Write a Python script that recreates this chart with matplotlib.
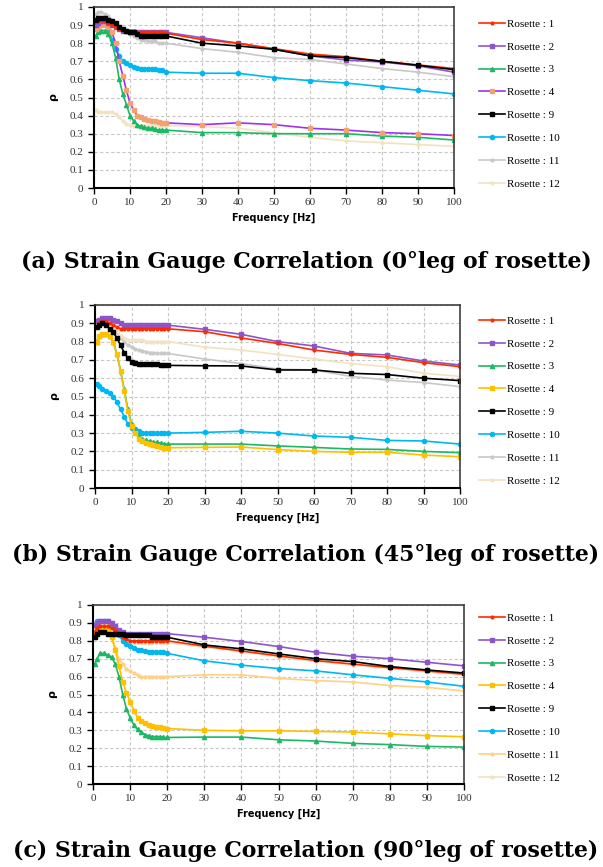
import matplotlib
matplotlib.use("Agg")
import matplotlib.pyplot as plt

freq = [0.5, 1, 2, 3, 4, 5, 6, 7, 8, 9, 10, 11, 12, 13, 14, 15, 16, 17, 18, 19, 20,
        30, 40, 50, 60, 70, 80, 90, 100]
labels = ["Rosette : 1", "Rosette : 2", "Rosette : 3", "Rosette : 4",
          "Rosette : 9", "Rosette : 10", "Rosette : 11", "Rosette : 12"]

# ---- (a) 0 deg leg ----
a_r1 = [0.92, 0.93, 0.93, 0.92, 0.91, 0.90, 0.89, 0.88, 0.88, 0.87, 0.87, 0.87, 0.86, 0.86, 0.86, 0.86, 0.86, 0.86, 0.86, 0.86, 0.855,
        0.82, 0.80, 0.77, 0.74, 0.725, 0.70, 0.68, 0.66]
a_r2 = [0.90, 0.91, 0.92, 0.92, 0.91, 0.90, 0.89, 0.88, 0.87, 0.87, 0.86, 0.86, 0.86, 0.86, 0.86, 0.86, 0.86, 0.86, 0.86, 0.86, 0.86,
        0.83, 0.80, 0.766, 0.73, 0.707, 0.696, 0.675, 0.64]
a_r3 = [0.84, 0.86, 0.87, 0.87, 0.85, 0.80, 0.72, 0.60, 0.52, 0.46, 0.40, 0.37, 0.35, 0.34, 0.335, 0.33, 0.33, 0.325, 0.32, 0.32, 0.32,
        0.306, 0.306, 0.30, 0.30, 0.30, 0.287, 0.28, 0.265]
a_r4 = [0.88, 0.89, 0.90, 0.90, 0.89, 0.86, 0.80, 0.70, 0.62, 0.54, 0.47, 0.43, 0.40, 0.39, 0.38, 0.375, 0.37, 0.37, 0.365, 0.36, 0.36,
        0.35, 0.36, 0.35, 0.33, 0.32, 0.306, 0.30, 0.29]
a_r9 = [0.93, 0.94, 0.94, 0.94, 0.93, 0.92, 0.91, 0.89, 0.88, 0.87, 0.86, 0.86, 0.85, 0.84, 0.84, 0.84, 0.84, 0.84, 0.84, 0.84, 0.84,
        0.80, 0.785, 0.766, 0.73, 0.72, 0.70, 0.678, 0.654]
a_r10 = [0.91, 0.92, 0.92, 0.91, 0.88, 0.82, 0.77, 0.73, 0.70, 0.69, 0.68, 0.67, 0.665, 0.66, 0.66, 0.66, 0.66, 0.655, 0.65, 0.65, 0.64,
         0.634, 0.634, 0.61, 0.593, 0.58, 0.56, 0.54, 0.52]
a_r11 = [0.96, 0.97, 0.97, 0.96, 0.95, 0.93, 0.90, 0.88, 0.87, 0.86, 0.85, 0.84, 0.83, 0.82, 0.82, 0.81, 0.81, 0.81, 0.80, 0.80, 0.80,
         0.77, 0.75, 0.72, 0.71, 0.685, 0.66, 0.64, 0.615]
a_r12 = [0.43, 0.42, 0.42, 0.42, 0.42, 0.42, 0.41, 0.39, 0.37, 0.355, 0.35, 0.345, 0.345, 0.345, 0.345, 0.345, 0.345, 0.345, 0.345, 0.345, 0.345,
         0.34, 0.33, 0.305, 0.28, 0.26, 0.25, 0.24, 0.23]

# ---- (b) 45 deg leg ----
b_r1 = [0.88, 0.90, 0.91, 0.91, 0.90, 0.89, 0.88, 0.87, 0.87, 0.87, 0.87, 0.87, 0.87, 0.87, 0.87, 0.87, 0.87, 0.87, 0.87, 0.87, 0.87,
        0.854, 0.82, 0.79, 0.754, 0.73, 0.714, 0.685, 0.663]
b_r2 = [0.91, 0.92, 0.93, 0.93, 0.93, 0.92, 0.91, 0.90, 0.89, 0.89, 0.89, 0.89, 0.89, 0.89, 0.89, 0.89, 0.89, 0.89, 0.89, 0.89, 0.89,
        0.867, 0.84, 0.80, 0.776, 0.736, 0.727, 0.694, 0.672]
b_r3 = [0.80, 0.83, 0.84, 0.84, 0.83, 0.80, 0.73, 0.64, 0.54, 0.43, 0.35, 0.31, 0.285, 0.27, 0.26, 0.255, 0.25, 0.25, 0.245, 0.24, 0.24,
        0.24, 0.24, 0.23, 0.222, 0.213, 0.211, 0.20, 0.193]
b_r4 = [0.80, 0.83, 0.84, 0.84, 0.83, 0.80, 0.73, 0.64, 0.53, 0.42, 0.34, 0.30, 0.27, 0.255, 0.245, 0.24, 0.235, 0.23, 0.225, 0.22, 0.22,
        0.222, 0.224, 0.21, 0.20, 0.195, 0.195, 0.18, 0.171]
b_r9 = [0.88, 0.89, 0.90, 0.89, 0.87, 0.85, 0.82, 0.78, 0.74, 0.71, 0.69, 0.685, 0.68, 0.68, 0.68, 0.68, 0.68, 0.675, 0.67, 0.67, 0.67,
        0.668, 0.667, 0.645, 0.645, 0.627, 0.62, 0.60, 0.587]
b_r10 = [0.57, 0.56, 0.54, 0.53, 0.52, 0.50, 0.47, 0.43, 0.39, 0.35, 0.33, 0.32, 0.31, 0.30, 0.30, 0.30, 0.30, 0.30, 0.30, 0.30, 0.30,
         0.304, 0.31, 0.30, 0.284, 0.277, 0.26, 0.257, 0.24]
b_r11 = [0.90, 0.91, 0.91, 0.91, 0.90, 0.88, 0.85, 0.82, 0.80, 0.78, 0.77, 0.76, 0.755, 0.75, 0.745, 0.74, 0.74, 0.735, 0.735, 0.735, 0.735,
         0.705, 0.68, 0.65, 0.645, 0.61, 0.59, 0.576, 0.554]
b_r12 = [0.90, 0.91, 0.92, 0.92, 0.91, 0.89, 0.86, 0.83, 0.82, 0.81, 0.81, 0.81, 0.81, 0.81, 0.80, 0.80, 0.80, 0.80, 0.80, 0.80, 0.80,
         0.77, 0.754, 0.73, 0.705, 0.68, 0.663, 0.627, 0.61]

# ---- (c) 90 deg leg ----
c_r1 = [0.85, 0.87, 0.88, 0.88, 0.88, 0.87, 0.86, 0.84, 0.82, 0.81, 0.80, 0.80, 0.80, 0.80, 0.80, 0.80, 0.80, 0.80, 0.80, 0.80, 0.80,
        0.77, 0.743, 0.716, 0.69, 0.67, 0.65, 0.632, 0.613]
c_r2 = [0.89, 0.90, 0.91, 0.91, 0.91, 0.90, 0.88, 0.86, 0.85, 0.84, 0.84, 0.84, 0.84, 0.84, 0.84, 0.84, 0.84, 0.84, 0.84, 0.84, 0.84,
        0.82, 0.796, 0.768, 0.736, 0.714, 0.70, 0.68, 0.66]
c_r3 = [0.67, 0.70, 0.73, 0.73, 0.72, 0.71, 0.67, 0.60, 0.50, 0.42, 0.37, 0.33, 0.305, 0.29, 0.275, 0.27, 0.265, 0.265, 0.265, 0.26, 0.26,
        0.262, 0.262, 0.247, 0.24, 0.227, 0.22, 0.21, 0.206]
c_r4 = [0.84, 0.86, 0.87, 0.87, 0.86, 0.82, 0.75, 0.66, 0.57, 0.51, 0.46, 0.41, 0.37, 0.35, 0.34, 0.33, 0.325, 0.32, 0.32, 0.315, 0.31,
        0.30, 0.297, 0.297, 0.294, 0.29, 0.28, 0.27, 0.264]
c_r9 = [0.82, 0.84, 0.85, 0.85, 0.84, 0.84, 0.84, 0.84, 0.84, 0.83, 0.83, 0.83, 0.83, 0.83, 0.83, 0.83, 0.82, 0.82, 0.82, 0.82, 0.82,
        0.777, 0.755, 0.727, 0.70, 0.684, 0.656, 0.637, 0.62]
c_r10 = [0.89, 0.91, 0.91, 0.91, 0.91, 0.89, 0.86, 0.83, 0.80, 0.78, 0.77, 0.76, 0.75, 0.75, 0.745, 0.74, 0.74, 0.735, 0.735, 0.735, 0.73,
         0.688, 0.664, 0.645, 0.632, 0.61, 0.59, 0.57, 0.546]
c_r11 = [0.86, 0.88, 0.89, 0.89, 0.88, 0.84, 0.76, 0.70, 0.67, 0.645, 0.63, 0.62, 0.61, 0.60, 0.60, 0.60, 0.60, 0.60, 0.60, 0.60, 0.60,
         0.61, 0.61, 0.59, 0.578, 0.57, 0.55, 0.54, 0.52]
c_r12 = [0.87, 0.89, 0.90, 0.90, 0.90, 0.89, 0.87, 0.85, 0.83, 0.81, 0.80, 0.79, 0.79, 0.79, 0.79, 0.79, 0.79, 0.79, 0.79, 0.79, 0.79,
         0.764, 0.74, 0.71, 0.684, 0.665, 0.645, 0.626, 0.61]

captions = ["(a) Strain Gauge Correlation (0°leg of rosette)",
            "(b) Strain Gauge Correlation (45°leg of rosette)",
            "(c) Strain Gauge Correlation (90°leg of rosette)"]

RED = "#FF2A00"; PUR2 = "#8E55C8"; GRN = "#1DB866"; PUR4 = "#A030F0"; ORG = "#F4A070"
GOLD = "#FFC000"; BLK = "#000000"; CYAN = "#00B8F0"; GREY = "#C8C8C8"
CREAM = "#F2E2C0"; LORG = "#FFD088"

styles_a = [(RED, RED, "o", 2.0), (PUR2, PUR2, "s", 3.0), (GRN, GRN, "^", 3.0),
            (PUR4, ORG, "s", 3.0), (BLK, BLK, "s", 3.0), (CYAN, CYAN, "o", 3.0),
            (GREY, GREY, "o", 2.0), (CREAM, CREAM, "o", 2.0)]
styles_b = [(RED, RED, "o", 2.0), (PUR2, PUR2, "s", 3.0), (GRN, GRN, "^", 3.0),
            (GOLD, GOLD, "s", 3.0), (BLK, BLK, "s", 2.5), (CYAN, CYAN, "o", 3.0),
            (GREY, GREY, "o", 2.0), (CREAM, CREAM, "o", 2.0)]
styles_c = [(RED, RED, "o", 2.0), (PUR2, PUR2, "s", 3.0), (GRN, GRN, "^", 3.0),
            (GOLD, GOLD, "s", 2.5), (BLK, BLK, "s", 2.5), (CYAN, CYAN, "o", 3.0),
            (LORG, LORG, "o", 2.0), (CREAM, CREAM, "o", 2.0)]

# rect, caption y (px from top), first legend row y (px from top)
panels = [
    ([a_r1, a_r2, a_r3, a_r4, a_r9, a_r10, a_r11, a_r12], styles_a,
     [94 / 603, 1 - 188 / 867, 360 / 603, 181 / 867], 262, 19),
    ([b_r1, b_r2, b_r3, b_r4, b_r9, b_r10, b_r11, b_r12], styles_b,
     [95 / 603, 1 - 488 / 867, 365 / 603, 183 / 867], 555, 316),
    ([c_r1, c_r2, c_r3, c_r4, c_r9, c_r10, c_r11, c_r12], styles_c,
     [93 / 603, 1 - 784 / 867, 371 / 603, 179 / 867], 851, 613),
]

SERIF = "Liberation Serif"
fig = plt.figure(figsize=(6.03, 8.67), dpi=100)
draw_order = [6, 7, 5, 2, 3, 1, 0, 4]

for (series, styles, rect, cap_y, leg_y), cap in zip(panels, captions):
    ax = fig.add_axes(rect)
    handles = [None] * 8
    for i in draw_order:
        lc, mc, mk, ms = styles[i]
        h, = ax.plot(freq, series[i], color=lc, lw=1.2, marker=mk, markersize=ms,
                     markerfacecolor=mc, markeredgecolor=mc, label=labels[i])
        handles[i] = h
    ax.set_xlim(0, 100)
    ax.set_ylim(0, 1)
    ax.set_xticks(range(0, 101, 10))
    ax.set_yticks([i / 10 for i in range(11)])
    ax.set_yticklabels(["0", "0.1", "0.2", "0.3", "0.4", "0.5", "0.6", "0.7", "0.8", "0.9", "1"])
    ax.grid(True, color="#C8C8C8", linestyle=(0, (3, 2)), linewidth=0.8)
    ax.set_axisbelow(True)
    for s in ["left", "bottom"]:
        ax.spines[s].set_color("black")
        ax.spines[s].set_linewidth(1.5)
    for s in ["top", "right"]:
        ax.spines[s].set_color("#404040")
        ax.spines[s].set_linewidth(1.2)
    ax.tick_params(axis="both", direction="out", length=4, width=1, labelsize=8,
                   colors="black", labelcolor="#333333")
    for t in ax.get_xticklabels() + ax.get_yticklabels():
        t.set_fontfamily(SERIF)
    ax.set_xlabel("Frequency [Hz]", fontsize=7, fontweight="bold", fontfamily="DejaVu Sans", labelpad=4)
    ax.set_ylabel("ρ", fontsize=8, fontweight="bold", fontfamily="DejaVu Sans", labelpad=8)
    fig.legend(handles=handles, loc="upper left",
               bbox_to_anchor=(479 / 603, 1 - leg_y / 867),
               frameon=False, prop={"family": SERIF, "size": 8}, handlelength=2.3,
               handletextpad=0.2, labelspacing=1.175, borderaxespad=0, borderpad=0)
    fig.text(306 / 603, 1 - cap_y / 867, cap, ha="center", va="center", fontsize=15.8,
             fontweight="bold", fontfamily="DejaVu Serif")

fig.savefig("out.png", dpi=100)
